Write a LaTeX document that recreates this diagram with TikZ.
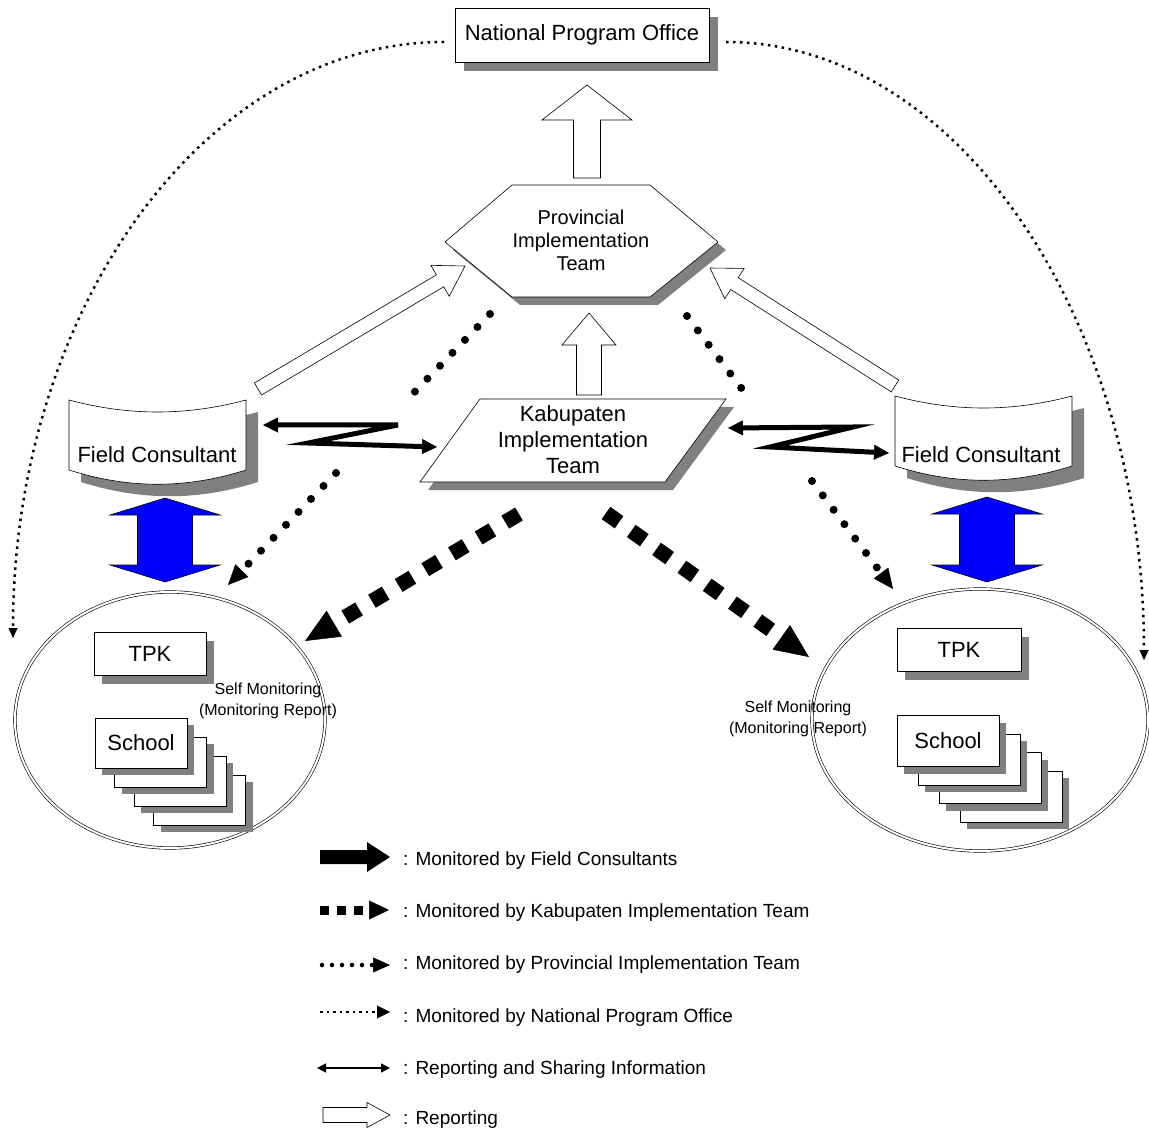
\documentclass[tikz,border=0pt]{standalone}
\usepackage{fontspec}
\setmainfont{Liberation Sans}
\usetikzlibrary{arrows.meta, calc, shadows, shapes.geometric}

% block arrow: style, from, to, shaft half width, head half width, head length
\newcommand{\blockarrow}[6]{%
  \coordinate (bah) at ($(#3)!#6!(#2)$);
  \path[#1] ($(#2)!#4!90:(#3)$) -- ($(bah)!#4!90:(#3)$) -- ($(bah)!#5!90:(#3)$) -- (#3)
    -- ($(bah)!#5!-90:(#3)$) -- ($(bah)!#4!-90:(#3)$) -- ($(#2)!#4!-90:(#3)$) -- cycle;}
% double headed block arrow, same arguments
\newcommand{\dblarrow}[6]{%
  \coordinate (dah1) at ($(#2)!#6!(#3)$);
  \coordinate (dah2) at ($(#3)!#6!(#2)$);
  \path[#1] (#2) -- ($(dah1)!#5!90:(#3)$) -- ($(dah1)!#4!90:(#3)$) -- ($(dah2)!#4!90:(#3)$)
    -- ($(dah2)!#5!90:(#3)$) -- (#3) -- ($(dah2)!#5!-90:(#3)$) -- ($(dah2)!#4!-90:(#3)$)
    -- ($(dah1)!#4!-90:(#3)$) -- ($(dah1)!#5!-90:(#3)$) -- cycle;}
% curved band for the field consultants, top left corner
\newcommand{\fcband}[2]{%
  \begin{scope}[shift={(#1,#2)}]
    \path[draw, fill=white, line width=0.6pt, boxshadow=12pt]
      (0,0) .. controls (60,16) and (117,16) .. (177,0) -- (177,70)
      .. controls (117,89) and (60,89) .. (0,70) -- cycle;
  \end{scope}}

\begin{document}
\begin{tikzpicture}[x=1pt, y=-1pt,
  lbl/.style={font=\fontsize{22}{26}\selectfont, align=center},
  smtxt/.style={font=\fontsize{16}{21}\selectfont, align=center},
  lgd/.style={font=\fontsize{19}{23}\selectfont, anchor=base west, inner sep=0pt},
  boxshadow/.style={drop shadow={shadow xshift=#1, shadow yshift=-#1, fill=black!50, opacity=1}},
  box/.style={draw, fill=white, line width=0.6pt, inner sep=0pt, lbl},
  grp/.style={draw, ellipse, double, double distance=2pt, line width=0.6pt, inner sep=0pt},
  rep/.style={draw, fill=white, line width=0.6pt},
  fcmon/.style={fill=black},
  blu/.style={draw, fill=blue, line width=0.6pt},
  kabmon/.style={line width=15pt, dash pattern=on 16pt off 15pt, -{Triangle[length=34pt, width=30pt, line width=0.5pt]}},
  provmon/.style={line width=8pt, line cap=round, dash pattern=on 0pt off 18pt, -{Triangle[length=20pt, width=18pt, line width=0.5pt]}},
  npomon/.style={line width=2.5pt, dash pattern=on 2.5pt off 4.5pt, -{Triangle[length=10pt, width=9pt, line width=0.3pt]}},
  share/.style={line width=5pt, line join=miter, {Triangle[length=15pt, width=15pt, line width=0.5pt]}-{Triangle[length=15pt, width=15pt, line width=0.5pt]}}]
  \useasboundingbox (0,0) rectangle (1149,1131);

  % offices
  \node[box, boxshadow=9pt, minimum width=254, minimum height=54] (npo) at (582,35) {National Program Office};
  \path[draw, fill=white, line width=0.6pt, boxshadow=8pt] (512,185) -- (650,185) -- (718,242) -- (650,297) -- (512,297) -- (445,242) -- cycle;
  \node[lbl, font=\fontsize{20}{23}\selectfont] (pit) at (581,240) {Provincial\\Implementation\\Team};
  \path[draw, fill=white, line width=0.6pt, boxshadow=8pt] (480,399) -- (726,399) -- (665,482) -- (420,482) -- cycle;
  \node[lbl] (kit) at (573,440) {Kabupaten\\Implementation\\Team};
  \fcband{69}{400}
  \node[lbl] (fcl) at (157,455) {Field Consultant};
  \fcband{895}{396}
  \node[lbl] (fcr) at (981,455) {Field Consultant};

  % school groups
  \node[grp, minimum width=310, minimum height=256] (grl) at (170,720) {};
  \node[grp, minimum width=336, minimum height=262] (grr) at (980,720) {};
  \node[box, boxshadow=8pt, minimum width=112, minimum height=43] (tpkl) at (150,654) {TPK};
  \node[box, boxshadow=8pt, minimum width=124, minimum height=43] (tpkr) at (959,650) {TPK};
  \foreach \i in {3,2,1} {
    \node[box, boxshadow=7pt, minimum width=92, minimum height=50] (schl\i) at ({141+19.5*\i},{743+19*\i}) {};
    \node[box, boxshadow=7pt, minimum width=102, minimum height=51] (schr\i) at ({948+21*\i},{741+18.5*\i}) {};
  }
  \node[box, boxshadow=7pt, minimum width=92, minimum height=50] (schl) at (141,743) {School};
  \node[box, boxshadow=7pt, minimum width=102, minimum height=51] (schr) at (948,741) {School};
  \node[smtxt] (sml) at (268,701) {Self Monitoring\\(Monitoring Report)};
  \node[smtxt] (smr) at (798,719) {Self Monitoring\\(Monitoring Report)};

  % reporting
  \coordinate (r1a) at (587,178); \coordinate (r1b) at (587,85);
  \blockarrow{rep}{r1a}{r1b}{13.5pt}{45pt}{35pt}
  \coordinate (r2a) at (589,395); \coordinate (r2b) at (589,313);
  \blockarrow{rep}{r2a}{r2b}{12.5pt}{27pt}{32pt}
  \coordinate (r3a) at (258,389); \coordinate (r3b) at (465,266);
  \blockarrow{rep}{r3a}{r3b}{7pt}{18pt}{29pt}
  \coordinate (r4a) at (895,386); \coordinate (r4b) at (710,268);
  \blockarrow{rep}{r4a}{r4b}{7pt}{18pt}{29pt}

  % field consultants <-> schools
  \coordinate (b1a) at (165,498); \coordinate (b1b) at (165,582);
  \dblarrow{blu}{b1a}{b1b}{27.5pt}{55pt}{17pt}
  \coordinate (b2a) at (987,497); \coordinate (b2b) at (987,582);
  \dblarrow{blu}{b2a}{b2b}{27.5pt}{55pt}{17pt}

  % sharing between consultants and kabupaten
  \coordinate (z1a) at (263,425); \coordinate (z1b) at (437,447);
  \draw[share] (z1a) -- (398,425) -- (308,443) -- (z1b);
  \coordinate (z2a) at (728,428); \coordinate (z2b) at (889,453);
  \draw[share] (z2a) -- (853,427) -- (770,447) -- (z2b);

  % monitoring
  \coordinate (kl1) at (519,514); \coordinate (kl2) at (305,641);
  \draw[kabmon] (kl1) -- (kl2);
  \coordinate (kr1) at (606,513); \coordinate (kr2) at (809,657);
  \draw[kabmon] (kr1) -- (kr2);
  \coordinate (pl1) at (490,314); \coordinate (pl2) at (403,404);
  \coordinate (pl3) at (336,473); \coordinate (pl4) at (228,585);
  \draw[provmon] (pl1) -- (pl2) (pl3) -- (pl4);
  \coordinate (pr1) at (687,316); \coordinate (pr2) at (748,397);
  \coordinate (pr3) at (812,481); \coordinate (pr4) at (893,589);
  \draw[provmon] (pr1) -- (pr2) (pr3) -- (pr4);
  \coordinate (nl1) at (444,42); \coordinate (nl2) at (13,638);
  \draw[npomon] (nl1) .. controls (205,42) and (13,310) .. (nl2);
  \coordinate (nr1) at (726,42); \coordinate (nr2) at (1144,660);
  \draw[npomon] (nr1) .. controls (958,42) and (1144,320) .. (nr2);

  % legend
  \node[lgd] (lg1) at (403,865) {: Monitored by Field Consultants};
  \node[lgd] (lg2) at (403,917) {: Monitored by Kabupaten Implementation Team};
  \node[lgd] (lg3) at (403,969) {: Monitored by Provincial Implementation Team};
  \node[lgd] (lg4) at (403,1022) {: Monitored by National Program Office};
  \node[lgd] (lg5) at (403,1074) {: Reporting and Sharing Information};
  \node[lgd] (lg6) at (403,1124) {: Reporting};
  \coordinate (k1a) at (320,857); \coordinate (k1b) at (390,857);
  \blockarrow{fcmon}{k1a}{k1b}{7pt}{15pt}{23pt}
  \coordinate (k2a) at (320,910); \coordinate (k2b) at (389,910);
  \draw[line width=9pt, dash pattern=on 9pt off 8pt, -{Triangle[length=20pt, width=19pt, line width=0.5pt]}] (k2a) -- (k2b);
  \coordinate (k3a) at (322,965); \coordinate (k3b) at (390,965);
  \draw[line width=4.5pt, line cap=round, dash pattern=on 0pt off 10pt, -{Triangle[length=17pt, width=15pt, line width=0.5pt]}] (k3a) -- (k3b);
  \coordinate (k4a) at (320,1012); \coordinate (k4b) at (390,1012);
  \draw[line width=2.5pt, dash pattern=on 2.5pt off 4pt, -{Triangle[length=13pt, width=13pt, line width=0.3pt]}] (k4a) -- (k4b);
  \coordinate (k5a) at (317,1068); \coordinate (k5b) at (390,1068);
  \draw[line width=1.3pt, {Triangle[length=9pt, width=9pt]}-{Triangle[length=9pt, width=9pt]}] (k5a) -- (k5b);
  \coordinate (k6a) at (323,1115); \coordinate (k6b) at (390,1115);
  \blockarrow{rep}{k6a}{k6b}{7.5pt}{12.5pt}{23pt}
\end{tikzpicture}
\end{document}
